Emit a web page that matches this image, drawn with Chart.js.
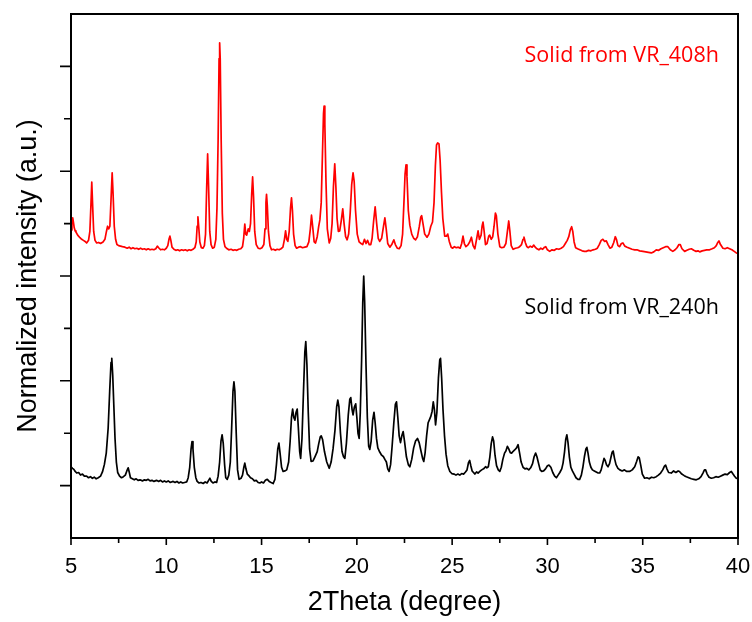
<!DOCTYPE html>
<html>
<head>
<meta charset="utf-8">
<title>XRD patterns</title>
<script src="https://cdn.jsdelivr.net/npm/chart.js@4/dist/chart.umd.min.js"></script>
<style>
  html, body { margin: 0; padding: 0; background: #fff; }
  canvas { display: block; }
</style>
</head>
<body>
<canvas id="xrdChart" width="752" height="622"></canvas>
<script>
// 2Theta (degree), normalized intensity (a.u., patterns stacked with an offset)
const solid408h = [
  [5.00,5.88],[5.05,6.05],[5.09,6.11],[5.13,6.02],[5.17,5.92],[5.22,5.86],[5.26,5.84],[5.35,5.78],
  [5.47,5.73],[5.56,5.70],[5.65,5.68],[5.74,5.66],[5.82,5.63],[5.92,5.68],[5.99,5.85],[6.04,6.30],
  [6.09,6.79],[6.14,6.30],[6.19,5.85],[6.26,5.68],[6.35,5.63],[6.45,5.64],[6.55,5.62],[6.68,5.65],
  [6.78,5.70],[6.86,5.85],[6.92,5.95],[6.98,5.90],[7.04,5.95],[7.10,6.45],[7.16,6.97],[7.21,6.55],
  [7.27,5.95],[7.34,5.70],[7.41,5.60],[7.50,5.58],[7.60,5.57],[7.70,5.56],[7.83,5.55],[7.95,5.53],
  [8.05,5.55],[8.15,5.52],[8.25,5.54],[8.35,5.52],[8.45,5.53],[8.55,5.51],[8.65,5.53],[8.75,5.51],
  [8.85,5.52],[8.95,5.50],[9.05,5.52],[9.15,5.50],[9.25,5.51],[9.35,5.50],[9.45,5.52],[9.53,5.57],
  [9.60,5.54],[9.70,5.50],[9.80,5.51],[9.90,5.50],[10.00,5.53],[10.08,5.58],[10.14,5.70],[10.19,5.76],
  [10.24,5.68],[10.30,5.55],[10.40,5.51],[10.50,5.49],[10.60,5.50],[10.70,5.48],[10.80,5.50],[10.90,5.49],
  [11.00,5.50],[11.10,5.48],[11.20,5.50],[11.30,5.49],[11.40,5.51],[11.50,5.54],[11.57,5.65],[11.62,5.95],
  [11.66,6.13],[11.70,5.95],[11.76,5.65],[11.84,5.54],[11.92,5.53],[12.00,5.58],[12.06,5.80],[12.12,6.70],
  [12.17,7.33],[12.22,6.70],[12.28,5.85],[12.35,5.60],[12.43,5.53],[12.52,5.55],[12.60,5.70],[12.66,6.30],
  [12.72,7.60],[12.77,9.15],[12.80,9.45],[12.83,9.15],[12.88,7.60],[12.94,6.20],[13.00,5.70],[13.08,5.56],
  [13.16,5.53],[13.28,5.50],[13.40,5.51],[13.50,5.49],[13.60,5.50],[13.70,5.49],[13.80,5.51],[13.91,5.52],
  [14.00,5.56],[14.06,5.72],[14.12,5.99],[14.17,5.80],[14.22,5.78],[14.30,5.90],[14.36,5.85],[14.42,6.00],
  [14.48,6.55],[14.53,6.89],[14.58,6.50],[14.64,5.85],[14.72,5.60],[14.82,5.53],[14.92,5.52],[15.02,5.54],
  [15.12,5.60],[15.18,5.90],[15.23,6.40],[15.26,6.56],[15.30,6.35],[15.36,5.85],[15.44,5.58],[15.52,5.50],
  [15.62,5.51],[15.72,5.49],[15.82,5.51],[15.92,5.50],[16.02,5.52],[16.12,5.55],[16.20,5.70],[16.26,5.86],
  [16.32,5.70],[16.38,5.66],[16.45,5.85],[16.52,6.30],[16.57,6.49],[16.62,6.25],[16.68,5.80],[16.76,5.58],
  [16.84,5.53],[16.94,5.55],[17.05,5.56],[17.15,5.54],[17.27,5.55],[17.38,5.56],[17.48,5.65],[17.56,5.90],
  [17.62,6.16],[17.68,5.95],[17.76,5.65],[17.83,5.63],[17.92,5.75],[18.00,5.95],[18.06,6.07],[18.13,6.40],
  [18.20,7.40],[18.25,8.10],[18.28,8.24],[18.32,7.90],[18.38,6.80],[18.45,5.90],[18.55,5.63],[18.63,5.72],
  [18.70,6.00],[18.77,6.70],[18.84,7.14],[18.90,6.70],[18.96,6.10],[19.03,5.85],[19.10,5.86],[19.18,6.05],
  [19.26,6.28],[19.33,6.00],[19.41,5.75],[19.49,5.69],[19.57,5.80],[19.65,6.20],[19.73,6.75],[19.80,6.97],
  [19.86,6.80],[19.93,6.25],[20.02,5.80],[20.12,5.65],[20.22,5.62],[20.31,5.60],[20.40,5.70],[20.48,5.62],
  [20.56,5.68],[20.65,5.60],[20.73,5.60],[20.80,5.72],[20.88,6.05],[20.96,6.32],[21.04,6.00],[21.12,5.72],
  [21.20,5.66],[21.30,5.72],[21.40,5.95],[21.47,6.11],[21.54,5.90],[21.62,5.62],[21.73,5.55],[21.83,5.60],
  [21.94,5.69],[22.02,5.60],[22.12,5.53],[22.22,5.52],[22.32,5.58],[22.40,5.80],[22.47,6.40],[22.53,6.95],
  [22.58,7.12],[22.63,6.90],[22.70,6.25],[22.78,5.97],[22.88,5.80],[22.98,5.72],[23.08,5.69],[23.18,5.75],
  [23.28,5.95],[23.35,6.12],[23.40,6.15],[23.47,6.00],[23.56,5.80],[23.68,5.74],[23.78,5.80],[23.88,5.95],
  [23.97,6.03],[24.05,6.40],[24.12,7.10],[24.18,7.50],[24.24,7.54],[24.31,7.52],[24.37,7.20],[24.44,6.60],
  [24.51,6.10],[24.61,5.76],[24.70,5.76],[24.77,5.80],[24.85,5.66],[24.95,5.55],[25.03,5.53],[25.12,5.56],
  [25.22,5.54],[25.32,5.55],[25.42,5.53],[25.50,5.62],[25.57,5.76],[25.64,5.62],[25.72,5.56],[25.82,5.59],
  [25.92,5.65],[26.01,5.74],[26.10,5.58],[26.19,5.52],[26.28,5.70],[26.36,5.86],[26.43,5.70],[26.52,5.78],
  [26.57,5.95],[26.62,6.03],[26.68,5.85],[26.75,5.60],[26.83,5.62],[26.92,5.76],[26.97,5.78],[27.05,5.70],
  [27.13,5.75],[27.20,5.95],[27.27,6.20],[27.32,6.15],[27.40,5.80],[27.50,5.56],[27.60,5.54],[27.72,5.55],
  [27.82,5.62],[27.90,5.85],[27.97,6.05],[28.03,5.85],[28.10,5.58],[28.20,5.51],[28.32,5.53],[28.44,5.54],
  [28.54,5.56],[28.64,5.60],[28.72,5.70],[28.77,5.74],[28.84,5.64],[28.92,5.56],[29.00,5.54],[29.10,5.57],
  [29.20,5.55],[29.28,5.59],[29.36,5.55],[29.45,5.52],[29.55,5.50],[29.65,5.53],[29.75,5.51],[29.85,5.55],
  [29.91,5.56],[30.00,5.50],[30.12,5.47],[30.24,5.50],[30.36,5.49],[30.48,5.52],[30.60,5.51],[30.72,5.53],
  [30.84,5.56],[30.94,5.62],[31.04,5.68],[31.12,5.75],[31.20,5.88],[31.27,5.94],[31.33,5.85],[31.40,5.65],
  [31.48,5.54],[31.58,5.52],[31.70,5.50],[31.82,5.48],[31.94,5.47],[32.04,5.47],[32.16,5.49],[32.28,5.48],
  [32.40,5.50],[32.52,5.51],[32.62,5.53],[32.72,5.60],[32.82,5.68],[32.91,5.70],[33.00,5.66],[33.09,5.67],
  [33.18,5.60],[33.28,5.53],[33.38,5.55],[33.48,5.64],[33.56,5.75],[33.62,5.70],[33.70,5.58],[33.79,5.56],
  [33.88,5.62],[33.96,5.63],[34.06,5.57],[34.18,5.55],[34.31,5.53],[34.44,5.51],[34.58,5.50],[34.70,5.50],
  [34.84,5.48],[35.01,5.47],[35.16,5.46],[35.30,5.45],[35.45,5.44],[35.58,5.46],[35.71,5.50],[35.84,5.49],
  [35.96,5.52],[36.08,5.54],[36.20,5.56],[36.32,5.56],[36.45,5.50],[36.58,5.47],[36.70,5.50],[36.80,5.54],
  [36.90,5.60],[36.97,5.60],[37.06,5.52],[37.20,5.47],[37.32,5.49],[37.44,5.51],[37.55,5.52],[37.68,5.49],
  [37.80,5.47],[37.90,5.48],[37.99,5.46],[38.12,5.48],[38.24,5.49],[38.36,5.50],[38.51,5.50],[38.64,5.52],
  [38.76,5.54],[38.86,5.58],[38.94,5.64],[39.00,5.67],[39.08,5.60],[39.21,5.53],[39.32,5.52],[39.44,5.54],
  [39.56,5.52],[39.68,5.50],[39.80,5.47],[39.91,5.44],[40.00,5.43]
];

const solid240h = [
  [5.00,1.36],[5.08,1.33],[5.15,1.31],[5.22,1.27],[5.30,1.24],[5.40,1.25],[5.50,1.20],[5.60,1.22],
  [5.70,1.18],[5.82,1.18],[5.92,1.15],[6.02,1.17],[6.12,1.14],[6.22,1.16],[6.32,1.13],[6.43,1.15],
  [6.55,1.18],[6.65,1.26],[6.75,1.40],[6.85,1.62],[6.95,2.10],[7.03,2.80],[7.10,3.35],[7.14,3.43],
  [7.19,3.10],[7.25,2.50],[7.31,1.90],[7.38,1.45],[7.45,1.25],[7.55,1.18],[7.65,1.15],[7.75,1.17],
  [7.85,1.20],[7.93,1.28],[8.00,1.34],[8.06,1.25],[8.12,1.15],[8.22,1.13],[8.32,1.11],[8.42,1.13],
  [8.52,1.10],[8.62,1.11],[8.75,1.09],[8.85,1.11],[8.95,1.10],[9.05,1.12],[9.15,1.09],[9.25,1.10],
  [9.35,1.08],[9.49,1.10],[9.60,1.08],[9.70,1.10],[9.80,1.07],[9.90,1.09],[10.00,1.07],[10.10,1.09],
  [10.20,1.06],[10.36,1.08],[10.46,1.06],[10.56,1.08],[10.66,1.05],[10.76,1.07],[10.86,1.05],[10.96,1.06],
  [11.07,1.07],[11.15,1.15],[11.23,1.35],[11.30,1.70],[11.35,1.84],[11.40,1.70],[11.47,1.35],[11.55,1.15],
  [11.62,1.08],[11.72,1.05],[11.82,1.06],[11.94,1.04],[12.04,1.07],[12.14,1.05],[12.22,1.10],[12.29,1.14],
  [12.36,1.08],[12.45,1.05],[12.55,1.07],[12.64,1.06],[12.72,1.18],[12.80,1.45],[12.87,1.85],[12.93,1.97],
  [12.99,1.80],[13.06,1.40],[13.12,1.15],[13.20,1.12],[13.28,1.20],[13.36,1.45],[13.43,2.10],[13.50,2.80],
  [13.55,2.98],[13.60,2.80],[13.67,2.00],[13.74,1.30],[13.82,1.12],[13.92,1.14],[14.00,1.20],[14.07,1.35],
  [14.12,1.43],[14.18,1.32],[14.25,1.22],[14.33,1.19],[14.42,1.15],[14.52,1.13],[14.62,1.09],[14.72,1.10],
  [14.82,1.06],[14.91,1.05],[15.00,1.07],[15.10,1.05],[15.20,1.10],[15.30,1.12],[15.40,1.08],[15.50,1.06],
  [15.61,1.04],[15.70,1.12],[15.78,1.40],[15.85,1.70],[15.91,1.81],[15.97,1.62],[16.05,1.35],[16.13,1.27],
  [16.22,1.28],[16.32,1.30],[16.42,1.45],[16.50,1.85],[16.57,2.30],[16.63,2.46],[16.69,2.30],[16.75,2.25],
  [16.81,2.40],[16.87,2.46],[16.93,2.10],[17.00,1.65],[17.05,1.52],[17.12,1.90],[17.20,2.80],[17.27,3.55],
  [17.32,3.75],[17.38,3.30],[17.45,2.40],[17.52,1.70],[17.60,1.46],[17.70,1.47],[17.80,1.55],[17.92,1.65],
  [18.00,1.80],[18.08,1.93],[18.13,1.95],[18.20,1.88],[18.30,1.65],[18.42,1.45],[18.55,1.33],[18.65,1.45],
  [18.75,1.70],[18.85,2.05],[18.94,2.50],[19.00,2.63],[19.06,2.50],[19.14,2.00],[19.22,1.65],[19.30,1.55],
  [19.37,1.52],[19.45,1.80],[19.55,2.35],[19.63,2.65],[19.68,2.68],[19.75,2.45],[19.80,2.35],[19.87,2.50],
  [19.94,2.56],[20.00,2.30],[20.06,2.00],[20.12,1.90],[20.18,2.40],[20.25,3.40],[20.31,4.50],[20.36,5.00],
  [20.41,4.50],[20.48,3.30],[20.55,2.30],[20.62,1.75],[20.68,1.69],[20.75,1.85],[20.83,2.25],[20.90,2.40],
  [20.96,2.20],[21.03,1.90],[21.10,1.72],[21.20,1.64],[21.30,1.58],[21.40,1.55],[21.47,1.50],[21.55,1.45],
  [21.62,1.32],[21.69,1.27],[21.77,1.40],[21.85,1.75],[21.94,2.20],[22.02,2.55],[22.08,2.60],[22.15,2.30],
  [22.22,1.95],[22.29,1.82],[22.36,1.95],[22.43,2.03],[22.50,1.85],[22.60,1.55],[22.70,1.40],[22.78,1.36],
  [22.88,1.50],[22.98,1.72],[23.08,1.85],[23.18,1.90],[23.27,1.82],[23.37,1.65],[23.45,1.52],[23.51,1.46],
  [23.58,1.62],[23.66,1.95],[23.74,2.20],[23.80,2.25],[23.88,2.32],[23.95,2.42],[24.01,2.60],[24.07,2.45],
  [24.13,2.16],[24.20,2.40],[24.28,3.05],[24.35,3.40],[24.39,3.43],[24.45,3.05],[24.52,2.45],[24.60,1.95],
  [24.68,1.60],[24.77,1.38],[24.88,1.27],[24.98,1.23],[25.10,1.22],[25.20,1.20],[25.30,1.22],[25.40,1.20],
  [25.50,1.23],[25.60,1.22],[25.70,1.26],[25.78,1.30],[25.86,1.44],[25.92,1.48],[25.98,1.38],[26.05,1.28],
  [26.12,1.25],[26.19,1.22],[26.28,1.26],[26.36,1.24],[26.45,1.27],[26.55,1.30],[26.65,1.32],[26.75,1.36],
  [26.82,1.34],[26.90,1.36],[26.98,1.55],[27.05,1.80],[27.12,1.93],[27.18,1.85],[27.25,1.58],[27.33,1.38],
  [27.42,1.30],[27.50,1.27],[27.58,1.35],[27.66,1.50],[27.75,1.62],[27.82,1.66],[27.90,1.75],[27.97,1.70],
  [28.05,1.63],[28.12,1.62],[28.19,1.65],[28.28,1.68],[28.38,1.72],[28.46,1.78],[28.54,1.62],[28.62,1.45],
  [28.72,1.35],[28.82,1.32],[28.92,1.33],[29.02,1.30],[29.12,1.34],[29.22,1.42],[29.30,1.55],[29.38,1.62],
  [29.45,1.55],[29.55,1.40],[29.62,1.30],[29.70,1.27],[29.80,1.28],[29.90,1.32],[30.00,1.38],[30.08,1.39],
  [30.18,1.35],[30.28,1.25],[30.38,1.18],[30.47,1.15],[30.56,1.20],[30.65,1.25],[30.75,1.32],[30.82,1.43],
  [30.90,1.65],[30.96,1.88],[31.02,1.97],[31.08,1.82],[31.15,1.55],[31.23,1.35],[31.31,1.28],[31.40,1.22],
  [31.50,1.15],[31.60,1.12],[31.69,1.12],[31.78,1.20],[31.86,1.35],[31.94,1.55],[32.02,1.70],[32.07,1.73],
  [32.13,1.62],[32.20,1.45],[32.28,1.35],[32.36,1.30],[32.46,1.28],[32.56,1.26],[32.66,1.24],[32.74,1.24],
  [32.82,1.30],[32.90,1.42],[32.97,1.52],[33.03,1.48],[33.10,1.40],[33.18,1.36],[33.26,1.42],[33.34,1.55],
  [33.40,1.64],[33.45,1.66],[33.52,1.52],[33.60,1.40],[33.70,1.33],[33.80,1.30],[33.92,1.28],[34.04,1.30],
  [34.16,1.27],[34.31,1.27],[34.45,1.30],[34.58,1.36],[34.68,1.46],[34.76,1.55],[34.82,1.53],[34.90,1.38],
  [34.98,1.22],[35.10,1.14],[35.22,1.15],[35.34,1.13],[35.46,1.16],[35.58,1.15],[35.71,1.17],[35.82,1.20],
  [35.94,1.24],[36.05,1.30],[36.14,1.37],[36.20,1.39],[36.27,1.32],[36.36,1.25],[36.50,1.24],[36.62,1.28],
  [36.74,1.25],[36.86,1.28],[36.93,1.27],[37.05,1.22],[37.18,1.19],[37.29,1.17],[37.42,1.15],[37.55,1.13],
  [37.68,1.12],[37.81,1.11],[37.94,1.13],[38.06,1.17],[38.16,1.24],[38.24,1.30],[38.30,1.30],[38.38,1.22],
  [38.48,1.16],[38.60,1.14],[38.72,1.15],[38.84,1.17],[38.96,1.16],[39.08,1.18],[39.20,1.20],[39.32,1.22],
  [39.44,1.21],[39.56,1.25],[39.65,1.27],[39.74,1.22],[39.82,1.18],[39.91,1.14],[40.00,1.13]
];

const seriesNames = ['Solid from VR_408h', 'Solid from VR_240h'];
const seriesColors = ['#ff0000', '#000000'];
const xMajorTicks = [5, 10, 15, 20, 25, 30, 35, 40];
const xMinorTicks = [7.5, 12.5, 17.5, 22.5, 27.5, 32.5, 37.5];
const yMajorTicks = [1, 3, 5, 7, 9];
const yMinorTicks = [2, 4, 6, 8];
// where each series name starts: [2Theta, intensity] of the text baseline
const labelAnchors = [[28.8, 9.08], [28.8, 4.27]];

const toPoints = rows => rows.map(([x, y]) => ({ x, y }));

// box frame, outward tick marks and the series labels
const frameAndTicks = {
  id: 'frameAndTicks',
  afterDraw(chart) {
    const { ctx, chartArea: a, scales: { x, y } } = chart;
    ctx.save();
    ctx.strokeStyle = '#000';
    ctx.lineWidth = 2;
    ctx.strokeRect(a.left, a.top, a.right - a.left, a.bottom - a.top);

    ctx.lineWidth = 1.6;
    ctx.beginPath();
    xMajorTicks.forEach(v => {
      const px = x.getPixelForValue(v);
      ctx.moveTo(px, a.bottom); ctx.lineTo(px, a.bottom + 7);
    });
    xMinorTicks.forEach(v => {
      const px = x.getPixelForValue(v);
      ctx.moveTo(px, a.bottom); ctx.lineTo(px, a.bottom + 5);
    });
    yMajorTicks.forEach(v => {
      const py = y.getPixelForValue(v);
      ctx.moveTo(a.left, py); ctx.lineTo(a.left - 11, py);
    });
    yMinorTicks.forEach(v => {
      const py = y.getPixelForValue(v);
      ctx.moveTo(a.left, py); ctx.lineTo(a.left - 7, py);
    });
    ctx.stroke();

    ctx.font = '21.5px "Open Sans", "Noto Sans", sans-serif';
    ctx.textAlign = 'left';
    ctx.textBaseline = 'alphabetic';
    seriesNames.forEach((name, i) => {
      ctx.fillStyle = seriesColors[i];
      ctx.fillText(name, x.getPixelForValue(labelAnchors[i][0]), y.getPixelForValue(labelAnchors[i][1]));
    });
    ctx.restore();
  }
};

new Chart(document.getElementById('xrdChart'), {
  type: 'line',
  data: {
    datasets: [
      {
        label: seriesNames[0],
        data: toPoints(solid408h),
        borderColor: seriesColors[0],
        borderWidth: 1.7,
        borderJoinStyle: 'round',
        pointRadius: 0,
        tension: 0
      },
      {
        label: seriesNames[1],
        data: toPoints(solid240h),
        borderColor: seriesColors[1],
        borderWidth: 1.7,
        borderJoinStyle: 'round',
        pointRadius: 0,
        tension: 0
      }
    ]
  },
  options: {
    responsive: false,
    animation: false,
    layout: { padding: { top: 14, right: 14, left: 0, bottom: 0 } },
    plugins: {
      legend: { display: false },
      tooltip: { enabled: false }
    },
    scales: {
      x: {
        type: 'linear',
        min: 5,
        max: 40,
        afterFit: s => { s.height = 84; s.paddingLeft = 0; s.paddingRight = 0; },
        grid: { display: false, drawTicks: false },
        border: { display: false },
        ticks: {
          stepSize: 5,
          padding: 16,
          color: '#000',
          font: { family: '"Liberation Sans", Arial, sans-serif', size: 22 }
        },
        title: {
          display: true,
          text: '2Theta (degree)',
          color: '#000',
          padding: { top: 0, bottom: 3 },
          font: { family: '"Liberation Sans", Arial, sans-serif', size: 27 }
        }
      },
      y: {
        min: 0,
        max: 10,
        afterFit: s => { s.width = 71; s.paddingTop = 0; s.paddingBottom = 0; },
        grid: { display: false, drawTicks: false },
        border: { display: false },
        ticks: { display: false },
        title: {
          display: true,
          text: 'Normalized intensity (a.u.)',
          color: '#000',
          padding: { top: 12, bottom: 0 },
          font: { family: '"Liberation Sans", Arial, sans-serif', size: 27 }
        }
      }
    }
  },
  plugins: [frameAndTicks]
});
</script>
</body>
</html>
